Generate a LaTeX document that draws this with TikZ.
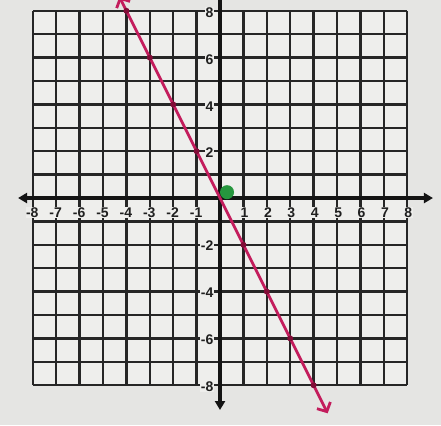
\documentclass[tikz,border=0pt]{standalone}
\usepackage{fontspec}
\setmainfont{Liberation Sans}
\usetikzlibrary{arrows.meta}
\definecolor{bg}{RGB}{229,229,227}
\definecolor{cell}{RGB}{238,238,236}
\definecolor{lin}{RGB}{195,28,92}
\definecolor{dotc}{RGB}{130,12,55}
\definecolor{grn}{RGB}{38,150,62}
\tikzset{
  axtip/.tip={Triangle[length=9pt,width=10pt]},
  barb/.tip={Straight Barb[length=7pt,width=15pt,line width=2.8pt]}}
\begin{document}
\begin{tikzpicture}[x=23.4pt,y=23.4pt,
  gridline/.style={line width=2.4pt,black!85},
  axisline/.style={line width=3.4pt,black!92},
  lbl/.style={font=\fontsize{14}{14}\selectfont\bfseries, text=black!88, inner sep=0.4pt, fill=cell},
  graphline/.style={line width=2.8pt,lin}]
\useasboundingbox (-9.402,-9.701) rectangle (9.444,8.462);
\fill[bg] (-9.402,-9.701) rectangle (9.444,8.462);
\clip (-9.402,-9.701) rectangle (9.444,8.462);
% grid
\fill[cell] (-8,-8) rectangle (8,8);
\draw[gridline,step=1] (-8,-8) grid (8,8);
% axes
\coordinate (xl) at (-8.63,0);
\coordinate (xr) at (9.1,0);
\coordinate (yb) at (0,-9.06);
\coordinate (yt) at (0,8.95);
\draw[axisline,axtip-axtip] (xl) -- (xr);
\draw[axisline,axtip-axtip] (yb) -- (yt);
% x labels
\foreach \i in {1,...,8}{
  \node[lbl] (xp\i) at (\i+0.05,-0.62) {\i};
  \node[lbl,anchor=east] (xn\i) at (-\i+0.27,-0.62) {-\i};
}
% y labels
\foreach \k in {2,4,6,8}{
  \node[lbl,anchor=east] (yp\k) at (-0.26,\k-0.08) {\k};
  \node[lbl,anchor=east] (yn\k) at (-0.26,-\k-0.05) {-\k};
}
% graph line
\coordinate (ls) at (-4.3,8.6);
\coordinate (le) at (4.6,-9.2);
\draw[graphline,barb-barb] (ls) -- (le);
\foreach \x in {-4,-3,-2,-1,1,2,3,4}{
  \fill[dotc] (\x,-2*\x) circle (3pt);
}
% green point
\node[circle,fill=grn,minimum size=14pt,inner sep=0pt] (o) at (0.3,0.25) {};
\end{tikzpicture}
\end{document}
